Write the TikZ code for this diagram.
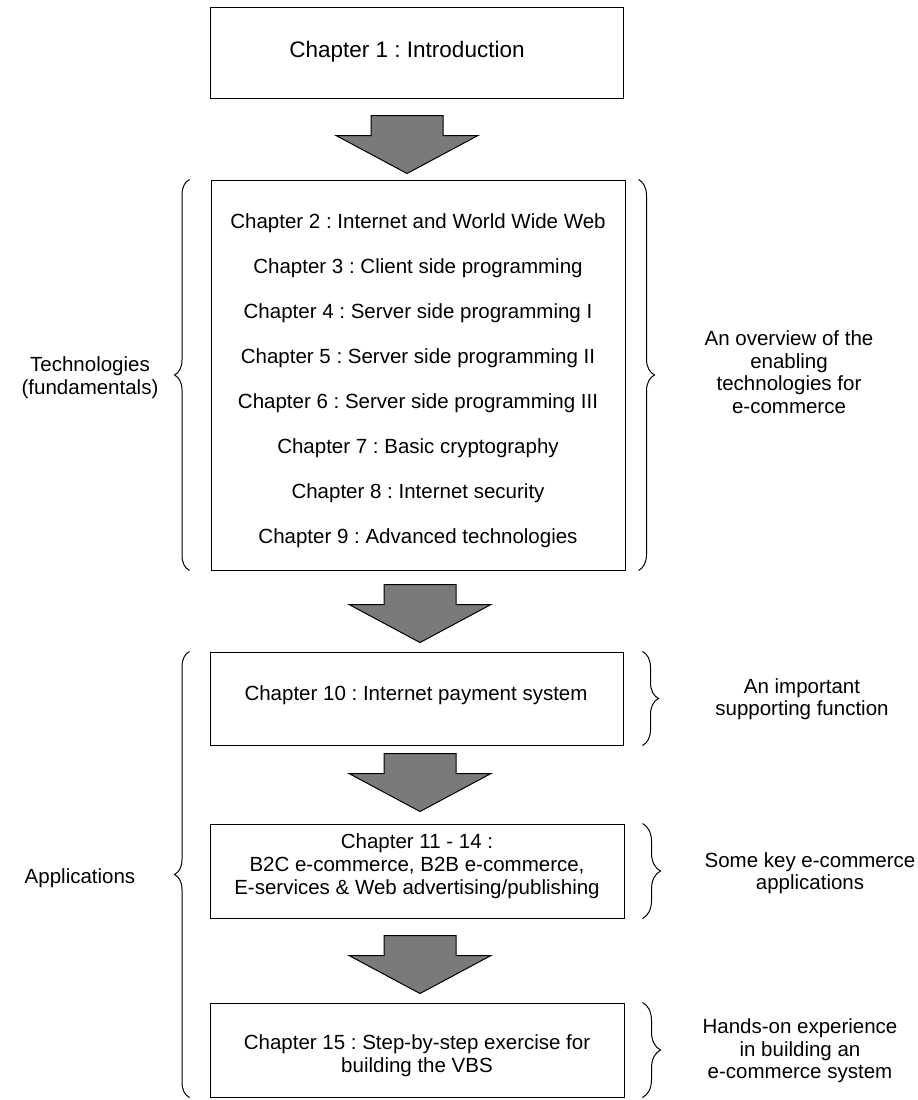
\documentclass[tikz,border=0pt]{standalone}
\usepackage{fontspec}
\setmainfont{Liberation Sans}
\usetikzlibrary{decorations.pathreplacing,calc}
\frenchspacing
\begin{document}
\begin{tikzpicture}[x=1pt,y=-1pt,
  chapbox/.style={draw=black, line width=1pt, inner sep=0pt},
  txt/.style={font=\fontsize{20.5}{23}\selectfont, align=center, inner sep=0pt},
  bigtxt/.style={font=\fontsize{22.5}{25}\selectfont, align=center, inner sep=0pt},
  sidetxt/.style={font=\fontsize{20.5}{22.5}\selectfont, align=center, inner sep=0pt},
  curly/.style={draw=black, line width=1pt, decorate, decoration={brace, amplitude=#1}},
  curly/.default=15pt,
  arrowfill/.style={draw=black, line width=1pt, fill=black!52, line join=miter},
  pics/blockarr/.style={code={
    \path[arrowfill] (-36,0) -- (36,0) -- (36,20) -- (71,20) -- (0,58)
      -- (-71,20) -- (-36,20) -- cycle;}}
]
\useasboundingbox (0,0) rectangle (918,1100);

% chapter boxes
\node[chapbox, minimum width=413pt, minimum height=91pt]  (b1)  at (416.5,52.5) {};
\node[chapbox, minimum width=414pt, minimum height=390pt] (b2)  at (418,375) {};
\node[chapbox, minimum width=413pt, minimum height=93pt]  (b10) at (416.5,698.5) {};
\node[chapbox, minimum width=414pt, minimum height=94pt]  (b11) at (417,871) {};
\node[chapbox, minimum width=414pt, minimum height=94pt]  (b15) at (417,1050) {};

% box texts
\node[bigtxt] (t1) at (407,52) {Chapter 1 : Introduction};
\node[txt] (t2) at (418,223) {Chapter 2 : Internet and World Wide Web};
\node[txt] (t3) at (418,268) {Chapter 3 : Client side programming};
\node[txt] (t4) at (418,313) {Chapter 4 : Server side programming I};
\node[txt] (t5) at (418,358) {Chapter 5 : Server side programming II};
\node[txt] (t6) at (418,403) {Chapter 6 : Server side programming III};
\node[txt] (t7) at (418,448) {Chapter 7 : Basic cryptography};
\node[txt] (t8) at (418,493) {Chapter 8 : Internet security};
\node[txt] (t9) at (418,538) {Chapter 9 : Advanced technologies};
\node[txt] (t10) at (416,695) {Chapter 10 : Internet payment system};
\node[txt] (t11) at (417,866) {Chapter 11 - 14 :\\B2C e-commerce, B2B e-commerce,\\E-services \& Web advertising/publishing};
\node[txt] (t15) at (417,1056) {Chapter 15 : Step-by-step exercise for\\building the VBS};

% block arrows between boxes
\pic at ($(b1.south)+(-9.5,17)$) {blockarr};
\pic at ($(b2.south)+(2,14)$) {blockarr};
\pic at ($(b10.south)+(3.5,8)$) {blockarr};
\pic at ($(b11.south)+(3,17)$) {blockarr};

% left braces and group labels
\draw[curly] ([xshift=-21pt]b2.south west) -- ([xshift=-21pt]b2.north west);
\draw[curly] ([xshift=-20pt]b15.south west) -- ([xshift=-20pt]b10.north west);
\node[txt] (lt) at (90,378) {Technologies\\(fundamentals)};
\node[txt] (la) at (80,878) {Applications};

% right braces and notes
\draw[curly=16pt] ([xshift=13pt]b2.north east) -- ([xshift=13pt]b2.south east);
\draw[curly=16pt] ([xshift=19pt]b10.north east) -- ([xshift=19pt]b10.south east);
\draw[curly=18pt] ([xshift=18pt]b11.north east) -- ([xshift=18pt]b11.south east);
\draw[curly=18pt] ([xshift=18pt]b15.north east) -- ([xshift=18pt]b15.south east);
\node[sidetxt] (r2)  at (789,372)  {An overview of the\\enabling\\technologies for\\e-commerce};
\node[sidetxt] (r10) at (802,699)  {An important\\supporting function};
\node[sidetxt] (r11) at (810,873)  {Some key e-commerce\\applications};
\node[sidetxt] (r15) at (800,1051) {Hands-on experience\\in building an\\e-commerce system};
\end{tikzpicture}
\end{document}
